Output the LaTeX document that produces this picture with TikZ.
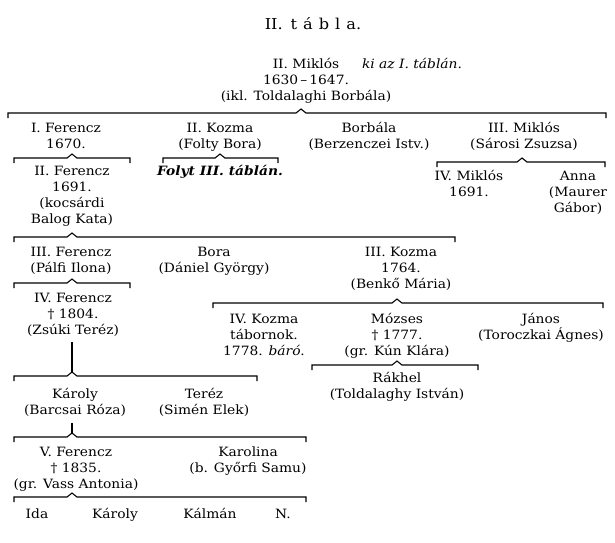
\documentclass[tikz,border=0pt]{standalone}
\usepackage{fontspec}
\setmainfont[FakeStretch=1.08]{DejaVu Serif}
\usetikzlibrary{calc}
\newcommand\tf{\fontsize{12.8}{16}\selectfont}
\newcommand\ml[1]{\begin{tabular}[t]{@{}c@{}}#1\end{tabular}}
\newcommand\famline[5]{%
  \coordinate (#1-l) at (#3,#2);
  \coordinate (#1-c) at (#4,#2);
  \coordinate (#1-r) at (#5,#2);
  \coordinate (#1-t) at (#4,#2-4);
  \draw[famrule] ([yshift=-5pt]#1-l) -- (#1-l) -- ([xshift=-5pt]#1-c) -- (#1-t) -- ([xshift=5pt]#1-c) -- (#1-r) -- ([yshift=-5pt]#1-r);}
\begin{document}
\begin{tikzpicture}[x=1pt,y=-1pt,
  every node/.style={inner sep=0pt, outer sep=0pt},
  t/.style={font=\tf, anchor=base},
  famrule/.style={line width=1.1pt, line join=miter}]
\useasboundingbox (0,0) rectangle (615,542);
\fill[white] (0,0) rectangle (615,542);

\node[font=\fontsize{15}{18}\selectfont, anchor=base] (title) at (313,29)
  {II.\hspace{8pt}t\hspace{6pt}á\hspace{6pt}b\hspace{6pt}l\hspace{6pt}a.};
\node[t] (miklos) at (306,68) {\ml{II. Miklós\\1630\,–\,1647.\\(ikl. Toldalaghi Borbála)}};
\node[font=\tf\itshape, anchor=base west] (kiaz) at (362,68) {ki az I. táblán.};

\famline{fa}{113}{8}{301}{606}
\node[t] (ferI) at (66,132) {\ml{I. Ferencz\\1670.}};
\node[t] (kozII) at (220,132) {\ml{II. Kozma\\(Folty Bora)}};
\node[t] (borbala) at (369,132) {\ml{Borbála\\(Berzenczei Istv.)}};
\node[t] (miklIII) at (524,132) {\ml{III. Miklós\\(Sárosi Zsuzsa)}};

\famline{fb}{158}{14}{72}{130}
\famline{fc}{158}{163}{220}{278}
\node[font=\tf\bfseries\itshape, anchor=base] (folyt) at (220,175) {Folyt III. táblán.};
\node[t] (ferII) at (72,175) {\ml{II. Ferencz\\1691.\\(kocsárdi\\Balog Kata)}};
\famline{fd}{162}{437}{522}{605}
\node[t] (miklIV) at (469,180) {\ml{IV. Miklós\\1691.}};
\node[t] (anna) at (578,180) {\ml{Anna\\(Maurer\\Gábor)}};

\famline{fe}{237}{14}{72}{455}
\node[t] (ferIII) at (71,256) {\ml{III. Ferencz\\(Pálfi Ilona)}};
\node[t] (bora) at (214,256) {\ml{Bora\\(Dániel György)}};
\node[t] (kozIII) at (401,256) {\ml{III. Kozma\\1764.\\(Benkő Mária)}};

\famline{ff}{283}{14}{72}{130}
\node[t] (ferIV) at (73,302) {\ml{IV. Ferencz\\† 1804.\\(Zsúki Teréz)}};
\famline{fg}{303}{213}{397}{603}
\node[t] (kozIV) at (264,323) {\ml{IV. Kozma\\tábornok.\\1778. \textit{báró.}}};
\node[t] (mozses) at (397,323) {\ml{Mózses\\† 1777.\\(gr. Kún Klára)}};
\node[t] (janos) at (541,323) {\ml{János\\(Toroczkai Ágnes)}};
\famline{fh}{365}{312}{397}{478}
\node[t] (rakhel) at (397,382) {\ml{Rákhel\\(Toldalaghy István)}};

\famline{fi}{376}{14}{72}{257}
\draw[famrule] ([yshift=-3pt]fi-t |- ferIV.south) -- (fi-t);
\node[t] (karoly) at (75,398) {\ml{Károly\\(Barcsai Róza)}};
\node[t] (terez) at (204,398) {\ml{Teréz\\(Simén Elek)}};

\famline{fj}{437}{14}{72}{306}
\draw[famrule] ([yshift=-4pt]fj-t |- karoly.south) -- (fj-t);
\node[t] (ferV) at (76,456) {\ml{V. Ferencz\\† 1835.\\(gr. Vass Antonia)}};
\node[t] (karolina) at (248,456) {\ml{Karolina\\(b. Győrfi Samu)}};

\famline{fk}{497}{14}{72}{306}
\node[t] (ida) at (37,518) {Ida};
\node[t] (karoly2) at (115,518) {Károly};
\node[t] (kalman) at (210,518) {Kálmán};
\node[t] (nn) at (283,518) {N.};
\end{tikzpicture}
\end{document}
